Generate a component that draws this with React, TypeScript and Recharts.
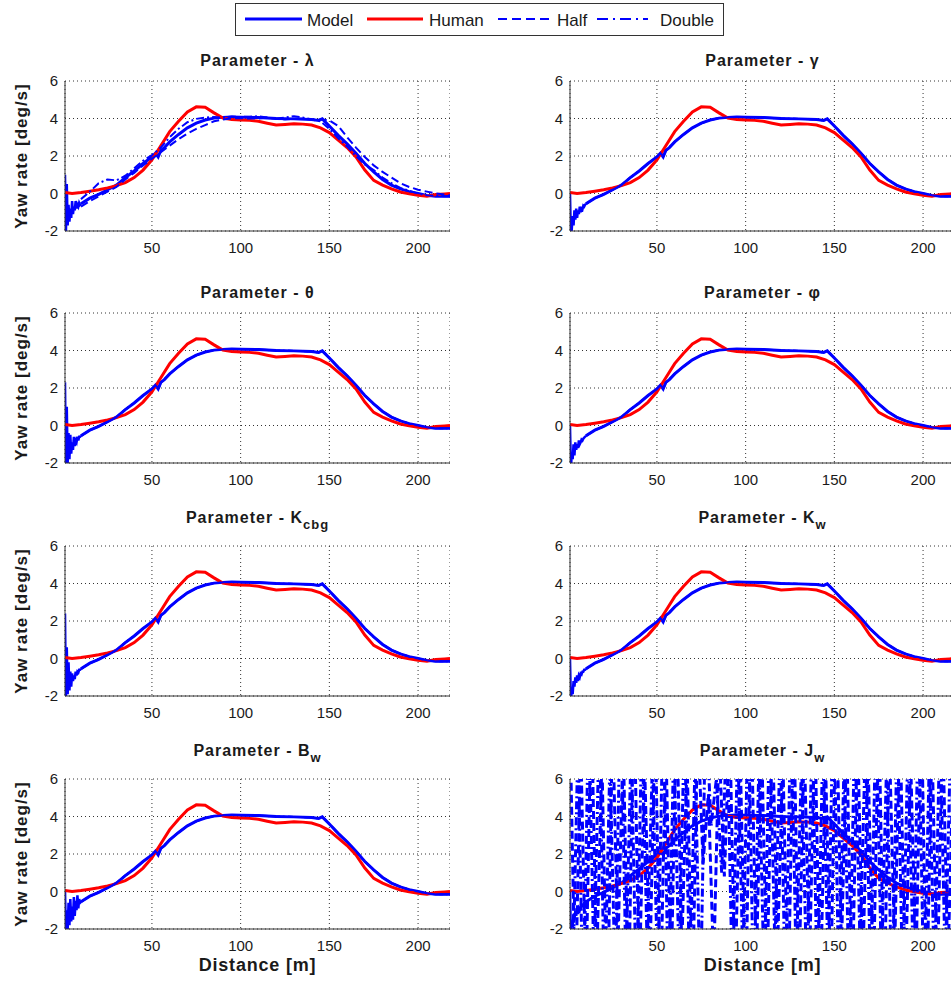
import { LineChart, Line, XAxis, YAxis, CartesianGrid } from 'recharts';

const FONT = '"Liberation Sans", Arial, Helvetica, sans-serif';
const INK = '#1a1a1a';
const BLUE = '#0000ff';
const RED = '#ff0000';

// axis ticks
const xTicks = [50, 100, 150, 200];
const yTicks = [-2, 0, 2, 4, 6];

// human driver yaw rate
const humanDist = [1, 5, 10, 15, 20, 25, 30, 35, 40, 45, 50, 55, 60, 65, 70, 75, 80, 85, 90, 95, 100, 105, 110, 115, 120, 125, 130, 135, 140, 145, 150, 155, 160, 165, 170, 175, 180, 185, 190, 195, 200, 205, 210, 215, 218];
const humanYaw = [0.05, 0.0, 0.05, 0.12, 0.2, 0.3, 0.42, 0.58, 0.85, 1.25, 1.8, 2.55, 3.3, 3.85, 4.35, 4.62, 4.6, 4.3, 4.02, 3.95, 3.92, 3.9, 3.85, 3.75, 3.65, 3.68, 3.72, 3.7, 3.65, 3.5, 3.25, 2.85, 2.45, 1.95, 1.25, 0.7, 0.45, 0.25, 0.08, -0.02, -0.1, -0.15, -0.05, -0.02, 0.0];

// nominal model yaw rate
const modelDist = [10, 15, 20, 25, 30, 35, 40, 45, 50, 52, 53.5, 55, 57, 60, 65, 70, 75, 80, 85, 90, 95, 100, 110, 120, 130, 140, 144, 146, 150, 155, 160, 165, 170, 175, 180, 185, 190, 195, 200, 205, 210, 215, 218];
const modelYaw = [-0.55, -0.25, -0.05, 0.2, 0.45, 0.85, 1.2, 1.6, 1.95, 2.15, 1.95, 2.3, 2.45, 2.75, 3.15, 3.5, 3.75, 3.92, 4.02, 4.06, 4.08, 4.07, 4.05, 4.0, 3.98, 3.95, 3.9, 3.98, 3.6, 3.1, 2.65, 2.15, 1.6, 1.15, 0.75, 0.45, 0.25, 0.1, 0.0, -0.1, -0.15, -0.15, -0.15];

// lambda half / double
const curveDist = [10, 15, 20, 25, 30, 35, 40, 45, 50, 55, 60, 65, 70, 75, 80, 85, 90, 95, 100, 105, 110, 115, 120, 125, 130, 135, 140, 145, 150, 155, 160, 165, 170, 175, 180, 185, 190, 195, 200, 205, 210, 215, 218];
const lambdaHalf = [-0.7, -0.4, -0.15, 0.1, 0.35, 0.75, 1.1, 1.5, 1.85, 2.2, 2.55, 2.9, 3.2, 3.45, 3.65, 3.85, 3.95, 4.0, 4.02, 4.0, 4.0, 4.05, 3.98, 3.95, 3.98, 4.0, 3.95, 3.95, 3.9, 3.6, 3.0, 2.45, 1.95, 1.5, 1.15, 0.85, 0.55, 0.35, 0.2, 0.1, 0.0, -0.05, -0.1];
const lambdaDouble = [-0.3, 0.1, 0.55, 0.75, 0.7, 0.95, 1.35, 1.75, 2.05, 2.45, 3.0, 3.45, 3.8, 3.98, 4.05, 4.08, 4.05, 4.1, 4.08, 4.1, 4.12, 4.05, 4.0, 4.05, 4.12, 4.05, 3.95, 3.85, 3.45, 2.95, 2.5, 2.0, 1.55, 1.25, 0.85, 0.55, 0.3, 0.15, 0.0, -0.1, -0.12, -0.15, -0.15];

// transient at the start of each model run
const startDist = [1, 1.5, 2, 2.5, 3, 3.5, 4, 4.5, 5, 5.5, 6, 6.5, 7, 7.5, 8, 8.5, 9, 9.5, 10];
const lambdaStart = [1.0, -2.2, 0.5, -1.7, -0.6, -1.5, -0.8, -1.3, -0.4, -1.1, -0.7, -0.9, -0.4, -0.8, -0.6, -0.7, -0.5, -0.6, -0.55];
const gammaStart = [0.0, -2.3, -1.9, -1.2, -1.7, -0.9, -1.4, -0.8, -1.3, -0.9, -1.1, -0.7, -1.0, -0.8, -0.85, -0.65, -0.7, -0.6, -0.55];
const thetaStart = [2.3, -2.2, 1.0, -2.0, -0.4, -1.8, -0.5, -1.5, -0.9, -1.3, -0.6, -1.1, -0.8, -0.9, -0.6, -0.8, -0.6, -0.6, -0.55];
const phiStart = [0.0, -2.3, -1.5, -1.8, -1.0, -1.6, -0.9, -1.3, -1.0, -1.2, -0.8, -1.0, -0.9, -0.75, -0.8, -0.7, -0.65, -0.6, -0.55];
const kcbgStart = [2.4, -2.2, 0.6, -1.9, -0.2, -1.7, -0.7, -1.5, -0.8, -1.2, -0.9, -1.1, -0.7, -0.9, -0.7, -0.75, -0.6, -0.6, -0.55];
const kwStart = [0.0, -2.3, -1.6, -1.9, -1.2, -1.5, -1.0, -1.3, -0.9, -1.2, -0.9, -1.0, -0.8, -0.85, -0.7, -0.7, -0.6, -0.6, -0.55];
const bwStart = [0.1, -2.3, -1.0, -2.0, -0.6, -1.8, -0.4, -1.6, -0.8, -1.5, -0.3, -1.3, -0.5, -1.0, -0.2, -0.9, -0.4, -0.6, -0.55];

// J_w half / double oscillate far outside the axis limits
const jwHalfDist = [1, 4, 7, 10, 13, 16, 19, 22, 25, 28, 31, 34, 37, 40, 43, 46, 49, 52, 55, 58, 61, 64, 67, 70, 73, 76, 79, 82, 85, 88, 91, 94, 97, 100, 103, 106, 109, 112, 115, 118, 121, 124, 127, 130, 133, 136, 139, 142, 145, 148, 151, 154, 157, 160, 163, 166, 169, 172, 175, 178, 181, 184, 187, 190, 193, 196, 199, 202, 205, 208, 211, 214, 217];
const jwHalfYaw = [
  9, -6, 8, -5, 10, -4, 7, -7, 9, -3,
  8, -6, 11, -5, 7, -4, 9, -6, 8, -5,
  10, -3, 7, -6, 9, 1.5, 5.2, -4, 8, 0.8,
  9, -5, 7, -6, 10, -4, 8, -5, 9, -3,
  7, -6, 10, -5, 8, -4, 9, -6, 7, -5,
  11, -3, 8, -6, 9, -4, 7, -5, 10, -6,
  8, -3, 9, -5, 7, -4, 10, -6, 8, -5,
  9, -4, 7,
];
const jwDoubleDist = [2.5, 5.5, 8.5, 11.5, 14.5, 17.5, 20.5, 23.5, 26.5, 29.5, 32.5, 35.5, 38.5, 41.5, 44.5, 47.5, 50.5, 53.5, 56.5, 59.5, 62.5, 65.5, 68.5, 71.5, 74.5, 77.5, 80.5, 83.5, 86.5, 89.5, 92.5, 95.5, 98.5, 101.5, 104.5, 107.5, 110.5, 113.5, 116.5, 119.5, 122.5, 125.5, 128.5, 131.5, 134.5, 137.5, 140.5, 143.5, 146.5, 149.5, 152.5, 155.5, 158.5, 161.5, 164.5, 167.5, 170.5, 173.5, 176.5, 179.5, 182.5, 185.5, 188.5, 191.5, 194.5, 197.5, 200.5, 203.5, 206.5, 209.5, 212.5, 215.5];
const jwDoubleYaw = [
  -5, 8, -7, 10, -4, 9, -6, 7, -5, 11,
  -4, 8, -6, 9, -3, 7, -5, 10, -6, 8,
  -4, 9, -5, 7, -6, 10, 3.5, 6, 1, 9,
  -5, 8, -4, 10, -6, 7, -5, 9, -3, 8,
  -6, 10, -4, 7, -5, 9, -6, 8, -4, 11,
  -5, 7, -6, 9, -3, 8, -5, 10, -4, 7,
  -6, 9, -5, 8, -4, 10, -6, 7, -5, 9,
  -4, 8,
];

function pts(xs: number[], ys: number[]) {
  return xs.map((x, i) => ({ x, y: ys[i] })).filter((p) => p.y !== undefined);
}

const human = pts(humanDist, humanYaw);
const model = pts(modelDist, modelYaw);

const panels = [
  { sym: 'λ', sub: '', start: lambdaStart, half: pts(curveDist, lambdaHalf), dbl: pts(curveDist, lambdaDouble), w: 2 },
  { sym: 'γ', sub: '', start: gammaStart, half: model, dbl: model, w: 2 },
  { sym: 'θ', sub: '', start: thetaStart, half: model, dbl: model, w: 2 },
  { sym: 'φ', sub: '', start: phiStart, half: model, dbl: model, w: 2 },
  { sym: 'K', sub: 'cbg', start: kcbgStart, half: model, dbl: model, w: 2 },
  { sym: 'K', sub: 'w', start: kwStart, half: model, dbl: model, w: 2 },
  { sym: 'B', sub: 'w', start: bwStart, half: model, dbl: model, w: 2 },
  { sym: 'J', sub: 'w', start: kwStart, half: pts(jwHalfDist, jwHalfYaw), dbl: pts(jwDoubleDist, jwDoubleYaw), w: 3 },
];

const PLOT_LEFT = [65, 570];
const PLOT_TOP = [81, 313, 546, 779];
const PLOT_W = 385;
const PLOT_H = 150;
const Y_AXIS_W = 65;

const tickStyle = { fontSize: 15, fill: INK, fontFamily: FONT };

function Panel({ idx }: { idx: number }) {
  const p = panels[idx];
  const col = idx % 2;
  const row = Math.floor(idx / 2);
  const left = PLOT_LEFT[col] - Y_AXIS_W;
  const top = PLOT_TOP[row] - 10;
  return (
    <div style={{ position: 'absolute', left, top }}>
      <LineChart width={Y_AXIS_W + PLOT_W} height={10 + PLOT_H + 35} margin={{ top: 10, right: 0, bottom: 0, left: 0 }}>
        <CartesianGrid stroke="#333" strokeDasharray="1 3" />
        <XAxis
          type="number"
          dataKey="x"
          domain={[1, 218]}
          ticks={xTicks}
          allowDataOverflow
          tickLine={false}
          tickSize={0}
          tickMargin={11}
          tick={tickStyle}
          stroke="#333"
          height={35}
        />
        <YAxis
          type="number"
          dataKey="y"
          domain={[-2, 6]}
          ticks={yTicks}
          allowDataOverflow
          width={Y_AXIS_W}
          tickLine={false}
          tickSize={0}
          tickMargin={7}
          tick={tickStyle}
          stroke="#333"
        />
        <Line data={p.start.map((y, i) => ({ x: startDist[i], y }))} dataKey="y" stroke={BLUE} strokeWidth={2.5} dot={false} isAnimationActive={false} />
        <Line data={model} dataKey="y" stroke={BLUE} strokeWidth={3} dot={false} isAnimationActive={false} />
        <Line data={human} dataKey="y" stroke={RED} strokeWidth={3} dot={false} isAnimationActive={false} />
        <Line data={p.half} dataKey="y" stroke={BLUE} strokeWidth={p.w} strokeDasharray="8 4" dot={false} isAnimationActive={false} />
        <Line data={p.dbl} dataKey="y" stroke={BLUE} strokeWidth={p.w} strokeDasharray="8 3 2 3" dot={false} isAnimationActive={false} />
      </LineChart>
    </div>
  );
}

function Texts() {
  const bold = { fontFamily: FONT, fontWeight: 'bold' as const, fill: INK };
  return (
    <svg width={951} height={982} style={{ position: 'absolute', left: 0, top: 0 }}>
      {/* legend */}
      <rect x={235.5} y={3.5} width={488} height={32} fill="#fff" stroke="#333" strokeWidth={1} />
      <line x1={245} y1={19} x2={302} y2={19} stroke={BLUE} strokeWidth={3} />
      <text x={307} y={26} fontSize={17} fontFamily={FONT} fill={INK}>Model</text>
      <line x1={367} y1={19} x2={423} y2={19} stroke={RED} strokeWidth={3} />
      <text x={429} y={26} fontSize={17} fontFamily={FONT} fill={INK}>Human</text>
      <line x1={498} y1={19} x2={551} y2={19} stroke={BLUE} strokeWidth={2} strokeDasharray="9 5" />
      <text x={557} y={26} fontSize={17} fontFamily={FONT} fill={INK}>Half</text>
      <line x1={597} y1={19} x2={648} y2={19} stroke={BLUE} strokeWidth={2} strokeDasharray="11 5 2 5" />
      <text x={660} y={26} fontSize={17} fontFamily={FONT} fill={INK}>Double</text>

      {panels.map((p, i) => {
        const col = i % 2;
        const row = Math.floor(i / 2);
        const cx = PLOT_LEFT[col] + PLOT_W / 2;
        const base = PLOT_TOP[row] - (p.sub ? 23 : 15);
        return (
          <text key={i} x={cx} y={base} textAnchor="middle" fontSize={16} letterSpacing={1} {...bold}>
            Parameter - {p.sym}
            {p.sub && <tspan fontSize={13} dy={6}>{p.sub}</tspan>}
          </text>
        );
      })}

      {PLOT_TOP.map((t, r) => (
        <text key={r} transform={`translate(27, ${t + PLOT_H / 2}) rotate(-90)`} textAnchor="middle" fontSize={17} letterSpacing={1} {...bold}>
          Yaw rate [deg/s]
        </text>
      ))}

      {PLOT_LEFT.map((l, c) => (
        <text key={c} x={l + PLOT_W / 2} y={971} textAnchor="middle" fontSize={18} letterSpacing={0.8} {...bold}>
          Distance [m]
        </text>
      ))}
    </svg>
  );
}

export default function App() {
  return (
    <div style={{ position: 'absolute', left: 0, top: 0, width: 951, height: 982, overflow: 'hidden', background: '#fff', fontFamily: FONT }}>
      <Texts />
      {panels.map((_, i) => (
        <Panel key={i} idx={i} />
      ))}
    </div>
  );
}
